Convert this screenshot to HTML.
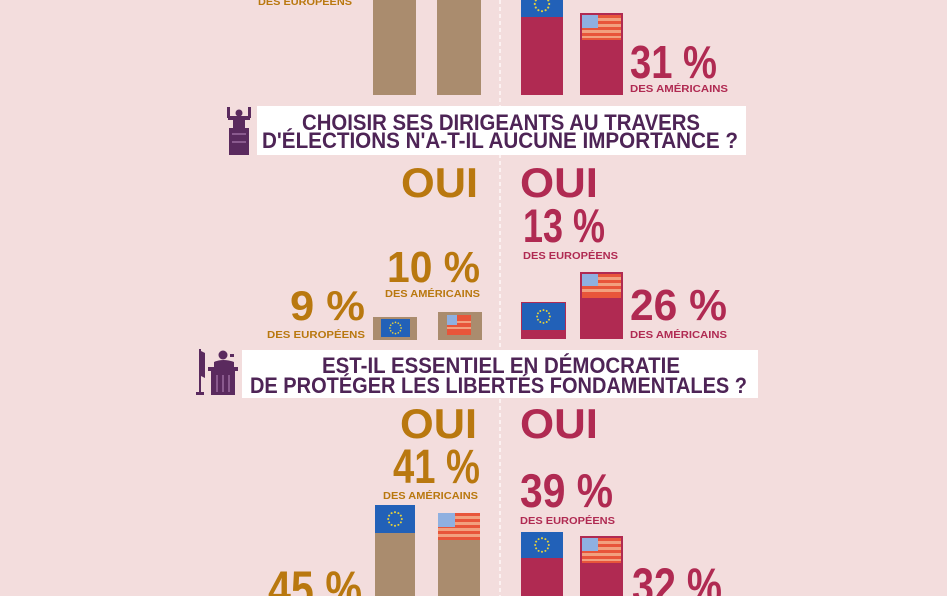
<!DOCTYPE html>
<html>
<head>
<meta charset="utf-8">
<style>
  html,body{margin:0;padding:0;background:#f3dddd;}
  svg{display:block;}
  text{font-family:"Liberation Sans",sans-serif;font-weight:bold;}
</style>
</head>
<body>
<svg width="947" height="596" viewBox="0 0 947 596" xmlns="http://www.w3.org/2000/svg">
  <defs>
    <g id="eustars">
      <circle cx="0" cy="-8" r="1.2"/><circle cx="4" cy="-6.9" r="1.2"/><circle cx="6.9" cy="-4" r="1.2"/>
      <circle cx="8" cy="0" r="1.2"/><circle cx="6.9" cy="4" r="1.2"/><circle cx="4" cy="6.9" r="1.2"/>
      <circle cx="0" cy="8" r="1.2"/><circle cx="-4" cy="6.9" r="1.2"/><circle cx="-6.9" cy="4" r="1.2"/>
      <circle cx="-8" cy="0" r="1.2"/><circle cx="-6.9" cy="-4" r="1.2"/><circle cx="-4" cy="-6.9" r="1.2"/>
    </g>
  </defs>
  <rect x="0" y="0" width="947" height="596" fill="#f3dddd"/>

  <!-- dashed divider -->
  <line x1="500" y1="0" x2="500" y2="596" stroke="#fcf1f1" stroke-width="2" stroke-dasharray="4 3"/>

  <!-- ============ SECTION 1 (top, partial) ============ -->
  <text x="258" y="5" fill="#b9780f" font-size="10" textLength="94" lengthAdjust="spacingAndGlyphs">DES EUROPÉENS</text>
  <rect x="373" y="-5" width="43" height="100" fill="#aa8c6e"/>
  <rect x="437" y="-5" width="44" height="100" fill="#aa8c6e"/>

  <rect x="521" y="-5" width="42" height="100" fill="#b02a52"/>
  <rect x="521" y="-5" width="42" height="22" fill="#2261b8"/>
  <g fill="#e8d23a" transform="translate(542,4) scale(0.9)"><use href="#eustars"/></g>

  <rect x="580" y="13" width="43" height="82" fill="#b02a52"/>
  <g>
    <rect x="582" y="15" width="39" height="25" fill="#e8553a"/>
    <rect x="582" y="18" width="39" height="3" fill="#f2a07e"/>
    <rect x="582" y="24" width="39" height="3" fill="#f2a07e"/>
    <rect x="582" y="30" width="39" height="3" fill="#f2a07e"/>
    <rect x="582" y="36" width="39" height="2" fill="#f2a07e"/>
    <rect x="582" y="15" width="16" height="13" fill="#8fb0e0"/>
  </g>
  <text x="630" y="78" fill="#b02a52" font-size="46" textLength="87" lengthAdjust="spacingAndGlyphs">31 %</text>
  <text x="630" y="92" fill="#b02a52" font-size="10" textLength="98" lengthAdjust="spacingAndGlyphs">DES AMÉRICAINS</text>

  <!-- ============ TITLE 1 ============ -->
  <rect x="257" y="106" width="489" height="49" fill="#ffffff"/>
  <text x="302" y="130" fill="#4e2456" font-size="22" textLength="398" lengthAdjust="spacingAndGlyphs">CHOISIR SES DIRIGEANTS AU TRAVERS</text>
  <text x="262" y="148" fill="#4e2456" font-size="22" textLength="476" lengthAdjust="spacingAndGlyphs">D'ÉLECTIONS N'A-T-IL AUCUNE IMPORTANCE ?</text>
  <!-- icon 1: person with raised arms on podium -->
  <g fill="#5a2a5e">
    <circle cx="239" cy="113" r="3.5"/>
    <rect x="227" y="107" width="3" height="11"/>
    <rect x="248" y="107" width="3" height="11"/>
    <rect x="228" y="116" width="22" height="4"/>
    <rect x="233" y="117" width="12" height="12"/>
    <rect x="229" y="128" width="20" height="27"/>
  </g>
  <g fill="#8a5a8e">
    <rect x="232" y="133" width="14" height="2"/>
    <rect x="232" y="141" width="14" height="2"/>
  </g>

  <!-- ============ SECTION 2 ============ -->
  <text x="401" y="197" fill="#b9780f" font-size="42" textLength="77" lengthAdjust="spacingAndGlyphs">OUI</text>
  <text x="520" y="197" fill="#b02a52" font-size="42" textLength="78" lengthAdjust="spacingAndGlyphs">OUI</text>

  <text x="387" y="282" fill="#b9780f" font-size="44" textLength="93" lengthAdjust="spacingAndGlyphs">10 %</text>
  <text x="385" y="297" fill="#b9780f" font-size="10" textLength="95" lengthAdjust="spacingAndGlyphs">DES AMÉRICAINS</text>
  <text x="290" y="320" fill="#b9780f" font-size="42" textLength="75" lengthAdjust="spacingAndGlyphs">9 %</text>
  <text x="267" y="338" fill="#b9780f" font-size="10" textLength="98" lengthAdjust="spacingAndGlyphs">DES EUROPÉENS</text>

  <rect x="373" y="317" width="44" height="23" fill="#aa8c6e"/>
  <rect x="381" y="319" width="29" height="18" fill="#2261b8"/>
  <g fill="#e8d23a" transform="translate(395.5,328) scale(0.7)"><use href="#eustars"/></g>

  <rect x="438" y="312" width="44" height="28" fill="#aa8c6e"/>
  <g>
    <rect x="447" y="315" width="24" height="20" fill="#e8553a"/>
    <rect x="447" y="321" width="24" height="2" fill="#f2a07e"/>
    <rect x="447" y="327" width="24" height="2" fill="#f2a07e"/>
    <rect x="447" y="315" width="10" height="10" fill="#8fb0e0"/>
  </g>

  <text x="523" y="242" fill="#b02a52" font-size="47" textLength="82" lengthAdjust="spacingAndGlyphs">13 %</text>
  <text x="523" y="259" fill="#b02a52" font-size="10" textLength="95" lengthAdjust="spacingAndGlyphs">DES EUROPÉENS</text>

  <rect x="521" y="302" width="45" height="37" fill="#b02a52"/>
  <rect x="522" y="303" width="43" height="27" fill="#2261b8"/>
  <g fill="#e8d23a" transform="translate(543.5,316.5) scale(0.8)"><use href="#eustars"/></g>

  <rect x="580" y="272" width="43" height="67" fill="#b02a52"/>
  <g>
    <rect x="582" y="274" width="39" height="24" fill="#e8553a"/>
    <rect x="582" y="277" width="39" height="3" fill="#f2a07e"/>
    <rect x="582" y="283" width="39" height="3" fill="#f2a07e"/>
    <rect x="582" y="289" width="39" height="3" fill="#f2a07e"/>
    <rect x="582" y="274" width="16" height="12" fill="#8fb0e0"/>
  </g>
  <text x="630" y="320" fill="#b02a52" font-size="44" textLength="97" lengthAdjust="spacingAndGlyphs">26 %</text>
  <text x="630" y="338" fill="#b02a52" font-size="10" textLength="97" lengthAdjust="spacingAndGlyphs">DES AMÉRICAINS</text>

  <!-- ============ TITLE 2 ============ -->
  <rect x="242" y="350" width="516" height="48" fill="#ffffff"/>
  <text x="322" y="373" fill="#4e2456" font-size="22" textLength="358" lengthAdjust="spacingAndGlyphs">EST-IL ESSENTIEL EN DÉMOCRATIE</text>
  <text x="250" y="393" fill="#4e2456" font-size="22" textLength="497" lengthAdjust="spacingAndGlyphs">DE PROTÉGER LES LIBERTÉS FONDAMENTALES ?</text>
  <!-- icon 2: flag stand + speaker at podium -->
  <g fill="#5a2a5e">
    <rect x="199" y="349" width="2" height="44"/>
    <path d="M201 351 L205 353 L205 378 L201 376 Z"/>
    <rect x="196" y="392" width="8" height="3"/>
    <circle cx="223" cy="355" r="4.5"/>
    <path d="M214 362 Q223 358 234 362 L234 368 L214 368 Z"/>
    <rect x="230" y="354" width="4" height="3"/>
    <rect x="208" y="367" width="30" height="4"/>
    <rect x="211" y="371" width="24" height="24"/>
  </g>
  <g fill="#8a5a8e">
    <rect x="216" y="375" width="2" height="17"/>
    <rect x="222" y="375" width="2" height="17"/>
    <rect x="228" y="375" width="2" height="17"/>
  </g>

  <!-- ============ SECTION 3 ============ -->
  <text x="400" y="438" fill="#b9780f" font-size="42" textLength="77" lengthAdjust="spacingAndGlyphs">OUI</text>
  <text x="520" y="438" fill="#b02a52" font-size="42" textLength="78" lengthAdjust="spacingAndGlyphs">OUI</text>

  <text x="393" y="483" fill="#b9780f" font-size="48" textLength="87" lengthAdjust="spacingAndGlyphs">41 %</text>
  <text x="383" y="499" fill="#b9780f" font-size="10" textLength="95" lengthAdjust="spacingAndGlyphs">DES AMÉRICAINS</text>

  <rect x="375" y="505" width="40" height="100" fill="#aa8c6e"/>
  <rect x="375" y="505" width="40" height="28" fill="#2261b8"/>
  <g fill="#e8d23a" transform="translate(395,519) scale(0.85)"><use href="#eustars"/></g>

  <rect x="438" y="513" width="42" height="100" fill="#aa8c6e"/>
  <g>
    <rect x="438" y="513" width="42" height="27" fill="#e8553a"/>
    <rect x="438" y="516" width="42" height="3" fill="#f2a07e"/>
    <rect x="438" y="522" width="42" height="3" fill="#f2a07e"/>
    <rect x="438" y="528" width="42" height="3" fill="#f2a07e"/>
    <rect x="438" y="534" width="42" height="3" fill="#f2a07e"/>
    <rect x="438" y="513" width="17" height="14" fill="#8fb0e0"/>
  </g>

  <text x="268" y="606" fill="#b9780f" font-size="50" textLength="94" lengthAdjust="spacingAndGlyphs">45 %</text>

  <text x="520" y="507" fill="#b02a52" font-size="47" textLength="93" lengthAdjust="spacingAndGlyphs">39 %</text>
  <text x="520" y="524" fill="#b02a52" font-size="10" textLength="95" lengthAdjust="spacingAndGlyphs">DES EUROPÉENS</text>

  <rect x="521" y="532" width="42" height="80" fill="#b02a52"/>
  <rect x="521" y="532" width="42" height="26" fill="#2261b8"/>
  <g fill="#e8d23a" transform="translate(542,545) scale(0.85)"><use href="#eustars"/></g>

  <rect x="580" y="536" width="43" height="80" fill="#b02a52"/>
  <g>
    <rect x="582" y="538" width="39" height="25" fill="#e8553a"/>
    <rect x="582" y="541" width="39" height="3" fill="#f2a07e"/>
    <rect x="582" y="547" width="39" height="3" fill="#f2a07e"/>
    <rect x="582" y="553" width="39" height="3" fill="#f2a07e"/>
    <rect x="582" y="559" width="39" height="2" fill="#f2a07e"/>
    <rect x="582" y="538" width="16" height="13" fill="#8fb0e0"/>
  </g>

  <text x="632" y="603" fill="#b02a52" font-size="50" textLength="90" lengthAdjust="spacingAndGlyphs">32 %</text>
</svg>
</body>
</html>
